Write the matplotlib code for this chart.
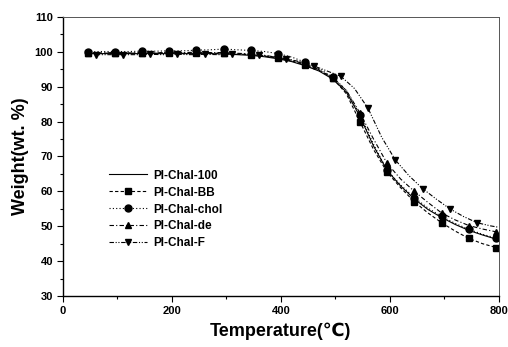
import matplotlib
matplotlib.use('Agg')
import matplotlib.pyplot as plt
from matplotlib.ticker import MultipleLocator

plt.rcParams['font.family'] = ['Liberation Sans', 'DejaVu Sans']
plt.rcParams['font.weight'] = 'bold'

# temperatures (C) for the first four series, and for PI-Chal-F
temps = [45, 70, 95, 120, 145, 170, 195, 220, 245, 270, 295, 320, 345, 370, 395, 420,
         445, 470, 495, 520, 545, 570, 595, 620, 645, 670, 695, 720, 745, 770, 795, 800]
temps_f = [60, 85, 110, 135, 160, 185, 210, 235, 260, 285, 310, 335, 360, 385, 410, 435,
           460, 485, 510, 535, 560, 585, 610, 635, 660, 685, 710, 735, 760, 785, 800]

w_100 = [99.5, 99.5, 99.5, 99.5, 99.5, 99.5, 99.5, 99.5, 99.5, 99.5, 99.4, 99.2, 99.0, 98.6, 98.0, 97.2,
         96.0, 94.5, 92.2, 88.5, 81.5, 73.0, 66.0, 61.5, 57.8, 54.8, 52.5, 50.5, 48.8, 47.5, 46.3, 46.1]
w_bb = [99.6, 99.6, 99.7, 99.6, 99.7, 99.6, 99.8, 99.6, 99.7, 99.6, 99.6, 99.4, 99.2, 98.8, 98.2, 97.4,
        96.2, 94.7, 92.5, 88.0, 80.0, 72.0, 65.5, 61.0, 57.0, 53.8, 51.0, 48.6, 46.5, 45.0, 43.9, 43.7]
w_chol = [100.0, 100.1, 100.1, 100.1, 100.2, 100.2, 100.3, 100.3, 100.5, 100.6, 100.8, 100.6, 100.4, 100.1, 99.5, 98.5,
          97.0, 95.2, 92.8, 89.0, 82.0, 73.5, 66.0, 61.8, 58.2, 55.2, 52.8, 50.8, 49.1, 47.7, 46.6, 46.4]
w_de = [99.7, 99.7, 99.8, 99.7, 99.8, 99.7, 99.9, 99.8, 99.9, 99.8, 99.8, 99.6, 99.4, 99.0, 98.4, 97.6,
        96.5, 94.9, 92.5, 89.0, 82.5, 75.0, 68.0, 63.5, 60.0, 56.8, 53.8, 51.8, 50.2, 49.2, 48.4, 48.2]
w_f = [99.2, 99.2, 99.2, 99.2, 99.3, 99.2, 99.3, 99.2, 99.3, 99.2, 99.3, 99.3, 99.0, 98.6, 98.0, 97.2,
       96.0, 94.5, 93.0, 89.5, 83.8, 75.5, 69.0, 64.5, 60.8, 57.8, 55.0, 52.8, 51.0, 50.1, 49.7]

labels = ['PI-Chal-100', 'PI-Chal-BB', 'PI-Chal-chol', 'PI-Chal-de', 'PI-Chal-F']

fig = plt.figure(figsize=(5.08, 3.47), dpi=100)
ax = fig.add_axes([0.124, 0.147, 0.858, 0.804])

marks = list(range(0, 31, 2))
ax.plot(temps, w_100, color='black', lw=0.8, ls='-', label=labels[0])
ax.plot(temps, w_bb, color='black', lw=0.8, ls=(0, (3, 2)), marker='s', ms=5,
        markevery=marks, label=labels[1])
ax.plot(temps, w_chol, color='black', lw=0.8, ls=(0, (1, 2)), marker='o', ms=5,
        markevery=marks, label=labels[2])
ax.plot(temps, w_de, color='black', lw=0.8, ls=(0, (4, 2, 1, 2)), marker='^', ms=5,
        markevery=marks, label=labels[3])
ax.plot(temps_f, w_f, color='black', lw=0.8, ls=(0, (4, 1.5, 1, 1.5, 1, 1.5)), marker='v', ms=5,
        markevery=list(range(0, 30, 2)), label=labels[4])

ax.set_xlim(0, 800)
ax.set_ylim(30, 110)
ax.xaxis.set_major_locator(MultipleLocator(200))
ax.xaxis.set_minor_locator(MultipleLocator(100))
ax.yaxis.set_major_locator(MultipleLocator(10))
ax.yaxis.set_minor_locator(MultipleLocator(5))
ax.tick_params(which='major', direction='out', length=4, width=0.8, labelsize=8, pad=3)
ax.tick_params(which='minor', direction='out', length=2, width=0.8)
for lab in ax.get_xticklabels() + ax.get_yticklabels():
    lab.set_fontweight('bold')

for side in ['top', 'right']:
    ax.spines[side].set_color('#555555')
    ax.spines[side].set_linewidth(0.7)
for side in ['left', 'bottom']:
    ax.spines[side].set_linewidth(1.0)

ax.set_xlabel('Temperature(℃)', fontsize=13, fontweight='bold', labelpad=5)
ax.set_ylabel('Weight(wt. %)', fontsize=13, fontweight='bold', labelpad=4)

ax.legend(loc='upper left', bbox_to_anchor=(0.095, 0.47), frameon=False,
          prop={'size': 8.5, 'weight': 'bold'}, handlelength=3.2, handletextpad=0.5,
          labelspacing=0.42, borderaxespad=0)

fig.savefig('out.png', dpi=100)
